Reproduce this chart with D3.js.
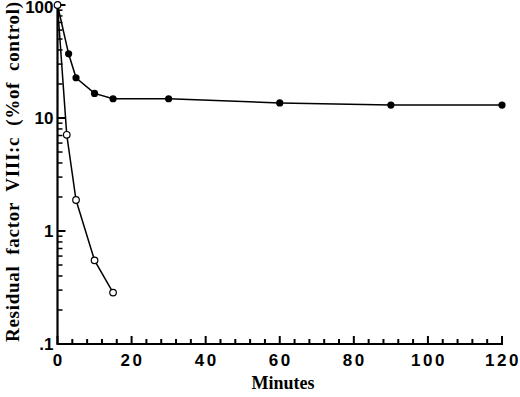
<!DOCTYPE html>
<html lang="en">
<head>
  <meta charset="UTF-8" />
  <title>Residual factor VIII:c</title>
  <script src="https://cdn.jsdelivr.net/npm/d3@7"></script>
  <style>
    body { margin: 0; background: #fff; }
    .tick-label { font-family: "Liberation Sans", Arial, sans-serif; font-weight: bold; font-size: 17px; }
    .title { font-family: "Liberation Serif", "Times New Roman", serif; font-weight: bold; }
  </style>
</head>
<body>
  <div id="chart"></div>
  <script>
    // data
    const openMinutes = [0, 2.5, 5, 10, 15];
    const openValues = [100, 7.1, 1.88, 0.55, 0.285];
    const filledMinutes = [0, 3, 5, 10, 15, 30, 60, 90, 120];
    const filledValues = [100, 37, 22.7, 16.5, 14.8, 14.8, 13.6, 13.0, 13.0];
    const xTicks = [0, 20, 40, 60, 80, 100, 120];
    const yTicks = [0.1, 1, 10, 100];
    const yTickLabels = [".1", "1", "10", "100"];

    const width = 520, height = 397;
    const margin = { top: 5, right: 18, bottom: 53, left: 57.5 };

    const svg = d3.select("#chart").append("svg")
      .attr("width", width)
      .attr("height", height);

    const x = d3.scaleLinear().domain([0, 120]).range([margin.left, width - margin.right]);
    const y = d3.scaleLog().domain([0.1, 100]).range([height - margin.bottom, margin.top]);

    const x0 = x(0), y0 = y(0.1);

    // axes lines
    svg.append("line").attr("x1", x0).attr("x2", x(120) + 1).attr("y1", y0).attr("y2", y0)
      .attr("stroke", "#000").attr("stroke-width", 2.2);
    svg.append("line").attr("x1", x0).attr("x2", x0).attr("y1", y0 + 1).attr("y2", y(100))
      .attr("stroke", "#000").attr("stroke-width", 2.2);

    // inward ticks: minor every 4 min on x, 2..9 per decade on y
    const tickG = svg.append("g").attr("stroke", "#000");
    const xMinor = d3.range(0, 121, 4).filter(v => v % 20 !== 0);
    xMinor.forEach(v => {
      tickG.append("line")
        .attr("x1", x(v)).attr("x2", x(v))
        .attr("y1", y0).attr("y2", y0 - 5)
        .attr("stroke-width", 2);
    });
    xTicks.forEach(v => {
      tickG.append("line")
        .attr("x1", x(v)).attr("x2", x(v))
        .attr("y1", y0).attr("y2", y0 - 8)
        .attr("stroke-width", 2);
    });
    const yMinor = [];
    [0.1, 1, 10].forEach(dec => { for (let k = 2; k <= 9; k++) yMinor.push(dec * k); });
    yMinor.forEach(v => {
      tickG.append("line")
        .attr("x1", x0).attr("x2", x0 + 5)
        .attr("y1", y(v)).attr("y2", y(v))
        .attr("stroke-width", 1.5);
    });
    yTicks.forEach(v => {
      tickG.append("line")
        .attr("x1", x0).attr("x2", x0 + 8)
        .attr("y1", y(v)).attr("y2", y(v))
        .attr("stroke-width", 2);
    });

    svg.selectAll(".xlabel").data(xTicks).enter().append("text")
      .attr("class", "tick-label")
      .attr("x", d => x(d) + (d === 0 ? 0 : 1))
      .attr("y", y0 + 22)
      .attr("text-anchor", "middle")
      .attr("letter-spacing", d => d === 0 ? 0 : 2.5)
      .text(d => d);
    svg.selectAll(".ylabel").data(yTicks).enter().append("text")
      .attr("class", "tick-label")
      .attr("x", x0 - 4)
      .attr("y", d => Math.max(y(d) + 6, 13))
      .attr("text-anchor", "end")
      .text((d, i) => yTickLabels[i]);

    // axis titles
    svg.append("text").attr("class", "title")
      .attr("x", 283).attr("y", 389)
      .attr("text-anchor", "middle")
      .attr("font-size", 18)
      .text("Minutes");
    svg.append("text").attr("class", "title")
      .attr("transform", `translate(19, 172) rotate(-90)`)
      .attr("text-anchor", "middle")
      .attr("font-size", 19)
      .attr("textLength", 340)
      .attr("lengthAdjust", "spacing")
      .attr("xml:space", "preserve")
      .text("Residual  factor  VIII:c  (%of  control)");

    const line = d3.line().x(d => x(d[0])).y(d => y(d[1]));
    const filled = filledMinutes.map((m, i) => [m, filledValues[i]]);
    const open = openMinutes.map((m, i) => [m, openValues[i]]);

    svg.append("path").datum(filled).attr("d", line)
      .attr("fill", "none").attr("stroke", "#000").attr("stroke-width", 1.5);
    svg.append("path").datum(open).attr("d", line)
      .attr("fill", "none").attr("stroke", "#000").attr("stroke-width", 1.5);

    svg.selectAll(".filled").data(filled.slice(1)).enter().append("circle")
      .attr("cx", d => x(d[0])).attr("cy", d => y(d[1])).attr("r", 3.6)
      .attr("fill", "#000");
    svg.selectAll(".open").data(open).enter().append("circle")
      .attr("cx", d => x(d[0])).attr("cy", d => y(d[1])).attr("r", 3.3)
      .attr("fill", "#fff").attr("stroke", "#000").attr("stroke-width", 1.2);
  </script>
</body>
</html>
